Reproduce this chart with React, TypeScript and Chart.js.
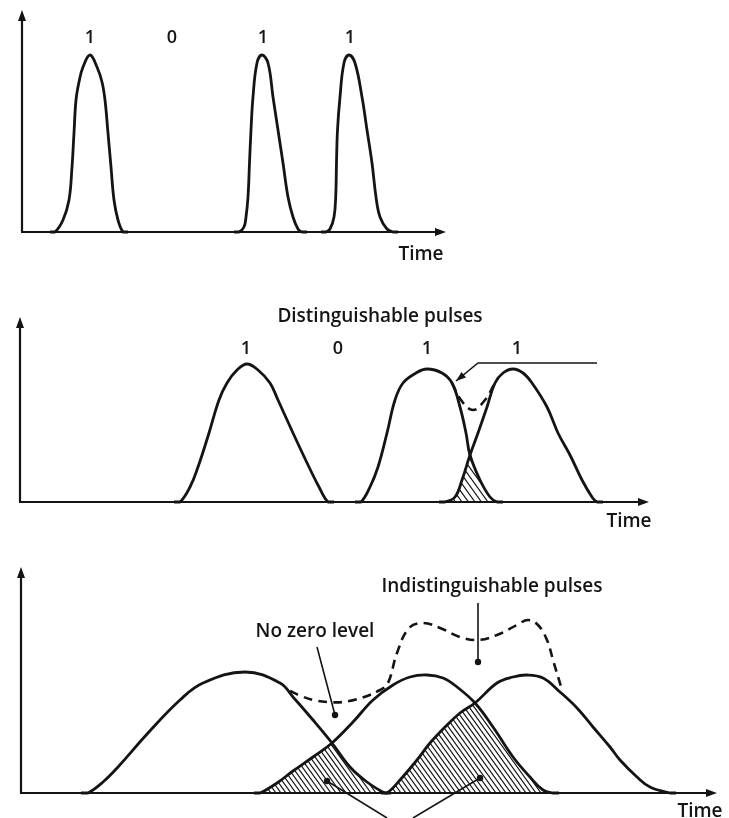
import React, { useEffect, useRef } from "react";
import { Chart, registerables } from "chart.js";

Chart.register(...registerables);

type Pair = [number, number]; // [time, amplitude]

// ---------- Panel 1: short, well separated pulses ----------
const P1_PULSE_1: Pair[] = [[28,0],[33,0],[41,12],[47,32],[50,65],[52,99],[54,132],[57,150],[61,165],[68,177],[75,165],[80,150],[83,132],[86,99],[89,65],[92,32],[96,12],[101,0],[106,0]];
const P1_PULSE_2: Pair[] = [[212,0],[217,0],[222,5],[224,15],[226,35],[227.5,69],[229,102],[231,135],[235,169],[240,177],[246,169],[251,135],[256,102],[261,69],[266,35],[271,15],[276,3],[280,0],[285,0]];
const P1_PULSE_3: Pair[] = [[299,0],[304,0],[308,3],[312,15],[313.7,35],[314.5,69],[315.5,102],[318,135],[322,169],[327,177],[333,169],[340,135],[345,102],[350,69],[354,35],[358,15],[365,3],[371,0],[376,0]];
const P1_BITS = ["1", "0", "1", "1"];
const P1_BIT_T = [68, 150, 241, 328];
const P1_BIT_A = 194;

// ---------- Panel 2: broadened but distinguishable pulses ----------
const P2_PULSE_1: Pair[] = [[154,0],[160,0],[170,15],[178,35],[189,69],[199,102],[207,119],[217,132],[227,138],[238,132],[250,119],[258,102],[273,69],[289,35],[299,15],[308,0],[314,0]];
const P2_PULSE_2: Pair[] = [[335,0],[341,0],[350,15],[358,35],[367,69],[375,102],[383,119],[396,129],[407,133],[422,129],[432,119],[440,95],[446,69],[450,47],[460,22],[470,5],[477,0],[483,0]];
const P2_PULSE_3: Pair[] = [[419,0],[425,0],[435,5],[442,22],[450,47],[458,69],[467,95],[475,119],[483,129],[493,133],[503,129],[512,119],[527,95],[538,69],[550,47],[562,22],[572,5],[577,0],[583,0]];
const P2_SUM: Pair[] = [[432,119],[441,102],[453,92],[465,102],[475,119]];
const P2_BITS = ["1", "0", "1", "1"];
const P2_BIT_T = [226, 318, 407, 497];
const P2_BIT_A = 153;
const P2_CALLOUT: Pair[] = [[577,139],[458,139],[436,121]];

// ---------- Panel 3: strongly broadened, indistinguishable pulses ----------
const P3_PULSE_1: Pair[] = [[60,0],[67,0],[82,11],[97,26],[127,60],[159,93],[182,110],[224,121],[259,110],[272,96],[292,73],[311,50],[329,26],[346,11],[364,0],[370,0]];
const P3_PULSE_2: Pair[] = [[233,0],[239,0],[256,10],[272,22],[292,36],[311,50],[332,71],[352,93],[372,108],[389,116],[406,118],[422,115],[436,106],[454,90],[472,66],[492,36],[509,16],[522,3],[532,0],[538,0]];
const P3_PULSE_3: Pair[] = [[360,0],[366,0],[379,13],[396,33],[409,50],[424,66],[439,80],[454,90],[476,110],[492,116],[506,118],[522,115],[539,101],[556,85],[572,66],[589,46],[599,33],[616,16],[629,6],[649,0],[655,0]];
const P3_SUM: Pair[] = [[269,102],[280,97],[292,93],[307,91],[322,91],[340,95],[359,103],[367,110],[376,140],[388,165],[402,170],[419,165],[439,156],[457,153],[476,158],[496,168],[507,173],[517,168],[526,153],[532,133],[541,103]];
const P3_NOZERO_PTR: Pair[] = [[296,146],[314,78]];
const P3_INDIST_PTR: Pair[] = [[457,190],[457,131]];
const P3_BOTTOM_PTR_L: Pair[] = [[366,-25],[306,12]];
const P3_BOTTOM_PTR_R: Pair[] = [[392,-25],[459,15]];

// axis extents (time max, amplitude max) per panel
const AXIS_T_MAX = [424, 629, 696];
const AXIS_A_MAX = [222, 185, 226];

const INK = "#141414";
const FONT_TEXT = '600 19px "Open Sans", "Noto Sans", sans-serif';
const FONT_BIT = '600 18px "Open Sans", "Noto Sans", sans-serif';

interface TextItem { text: string; t: number; a: number; font: string }
interface Pointer { pts: Pair[]; end: "dot" | "arrow" }
interface Panel {
  top: number;
  height: number;
  pad: { left: number; right: number; top: number; bottom: number };
  tMax: number;
  aMax: number;
  pulses: Pair[][];
  sum?: Pair[];
  overlaps: [number, number][];
  hatchGap: number;
  texts: TextItem[];
  pointers: Pointer[];
}

const bitTexts = (bits: string[], ts: number[], a: number): TextItem[] =>
  bits.map((b, i) => ({ text: b, t: ts[i], a, font: FONT_BIT }));

const PANELS: Panel[] = [
  {
    top: 0, height: 270,
    pad: { left: 22, right: 283, top: 10, bottom: 38 },
    tMax: AXIS_T_MAX[0], aMax: AXIS_A_MAX[0],
    pulses: [P1_PULSE_1, P1_PULSE_2, P1_PULSE_3],
    overlaps: [], hatchGap: 5,
    texts: [...bitTexts(P1_BITS, P1_BIT_T, P1_BIT_A), { text: "Time", t: 399, a: -23, font: FONT_TEXT }],
    pointers: [],
  },
  {
    top: 270, height: 270,
    pad: { left: 20, right: 80, top: 47, bottom: 38 },
    tMax: AXIS_T_MAX[1], aMax: AXIS_A_MAX[1],
    pulses: [P2_PULSE_1, P2_PULSE_2, P2_PULSE_3],
    sum: P2_SUM,
    overlaps: [[1, 2]], hatchGap: 6.5,
    texts: [
      ...bitTexts(P2_BITS, P2_BIT_T, P2_BIT_A),
      { text: "Distinguishable pulses", t: 360, a: 185, font: FONT_TEXT },
      { text: "Time", t: 609, a: -20, font: FONT_TEXT },
    ],
    pointers: [{ pts: P2_CALLOUT, end: "arrow" }],
  },
  {
    top: 540, height: 278,
    pad: { left: 21, right: 12, top: 27, bottom: 25 },
    tMax: AXIS_T_MAX[2], aMax: AXIS_A_MAX[2],
    pulses: [P3_PULSE_1, P3_PULSE_2, P3_PULSE_3],
    sum: P3_SUM,
    overlaps: [[0, 1], [1, 2]], hatchGap: 5,
    texts: [
      { text: "Indistinguishable pulses", t: 471, a: 206, font: FONT_TEXT },
      { text: "No zero level", t: 294, a: 161, font: FONT_TEXT },
      { text: "Time", t: 679, a: -19, font: FONT_TEXT },
    ],
    pointers: [
      { pts: P3_NOZERO_PTR, end: "dot" },
      { pts: P3_INDIST_PTR, end: "dot" },
      { pts: P3_BOTTOM_PTR_L, end: "dot" },
      { pts: P3_BOTTOM_PTR_R, end: "dot" },
    ],
  },
];

function arrowHead(ctx: CanvasRenderingContext2D, fx: number, fy: number, tx: number, ty: number, len: number, hw: number) {
  const ang = Math.atan2(ty - fy, tx - fx);
  const bx = tx - len * Math.cos(ang);
  const by = ty - len * Math.sin(ang);
  const px = -Math.sin(ang) * hw;
  const py = Math.cos(ang) * hw;
  ctx.beginPath();
  ctx.moveTo(tx, ty);
  ctx.lineTo(bx + px, by + py);
  ctx.lineTo(bx - px, by - py);
  ctx.closePath();
  ctx.fill();
}

function areaPath(ctx: CanvasRenderingContext2D, chart: any, idx: number) {
  const line: any = chart.getDatasetMeta(idx).dataset;
  line.updateControlPoints(chart.chartArea, "x");
  const pts = line.points;
  const y0 = chart.scales.y.getPixelForValue(0);
  ctx.beginPath();
  line.path(ctx);
  ctx.lineTo(pts[pts.length - 1].x, y0);
  ctx.lineTo(pts[0].x, y0);
  ctx.closePath();
}

function makePlugin(p: Panel) {
  return {
    id: "diagram",
    beforeDatasetsDraw(chart: any) {
      const ctx: CanvasRenderingContext2D = chart.ctx;
      const xs = chart.scales.x;
      const ys = chart.scales.y;
      for (const [i, j] of p.overlaps) {
        ctx.save();
        areaPath(ctx, chart, i);
        ctx.clip();
        areaPath(ctx, chart, j);
        ctx.clip();
        const { left, right, top, bottom } = chart.chartArea;
        const H = bottom - top;
        const dx = H * 0.72;
        ctx.beginPath();
        for (let x = left - dx; x < right; x += p.hatchGap) {
          ctx.moveTo(x, top);
          ctx.lineTo(x + dx, bottom);
        }
        ctx.lineWidth = 1.2;
        ctx.strokeStyle = INK;
        ctx.stroke();
        ctx.restore();
      }
      const x0 = xs.getPixelForValue(0);
      const y0 = ys.getPixelForValue(0);
      const xT = xs.getPixelForValue(p.tMax);
      const yT = ys.getPixelForValue(p.aMax);
      ctx.save();
      ctx.strokeStyle = INK;
      ctx.fillStyle = INK;
      ctx.lineWidth = 2.2;
      ctx.beginPath();
      ctx.moveTo(x0, y0);
      ctx.lineTo(x0, yT + 8);
      ctx.moveTo(x0 - 1, y0);
      ctx.lineTo(xT - 8, y0);
      ctx.stroke();
      arrowHead(ctx, x0, y0, x0, yT, 11, 4);
      arrowHead(ctx, x0, y0, xT, y0, 11, 4);
      ctx.restore();
    },
    afterDatasetsDraw(chart: any) {
      const ctx: CanvasRenderingContext2D = chart.ctx;
      const xs = chart.scales.x;
      const ys = chart.scales.y;
      const X = (t: number) => xs.getPixelForValue(t);
      const Y = (a: number) => ys.getPixelForValue(a);
      ctx.save();
      ctx.fillStyle = INK;
      ctx.strokeStyle = INK;
      ctx.textAlign = "center";
      ctx.textBaseline = "middle";
      for (const tx of p.texts) {
        ctx.font = tx.font;
        ctx.fillText(tx.text, X(tx.t), Y(tx.a));
      }
      for (const ptr of p.pointers) {
        ctx.lineWidth = 1.6;
        ctx.beginPath();
        ptr.pts.forEach(([t, a], k) => (k === 0 ? ctx.moveTo(X(t), Y(a)) : ctx.lineTo(X(t), Y(a))));
        ctx.stroke();
        const n = ptr.pts.length;
        const [et, ea] = ptr.pts[n - 1];
        if (ptr.end === "dot") {
          ctx.beginPath();
          ctx.arc(X(et), Y(ea), 3.2, 0, Math.PI * 2);
          ctx.fill();
        } else {
          const [pt, pa] = ptr.pts[n - 2];
          arrowHead(ctx, X(pt), Y(pa), X(et), Y(ea), 10, 3.5);
        }
      }
      ctx.restore();
    },
  };
}

function PanelChart({ panel }: { panel: Panel }) {
  const ref = useRef<HTMLCanvasElement | null>(null);
  useEffect(() => {
    if (!ref.current) return;
    const toXY = (d: Pair[]) => d.map(([x, y]) => ({ x, y }));
    const datasets: any[] = panel.pulses.map((d) => ({
      data: toXY(d),
      borderColor: INK,
      borderWidth: 2.8,
      tension: 0.4,
      pointRadius: 0,
      fill: false,
      clip: false,
      borderJoinStyle: "round",
      borderCapStyle: "butt",
    }));
    if (panel.sum) {
      datasets.push({
        data: toXY(panel.sum),
        borderColor: INK,
        borderWidth: 2.6,
        borderDash: [9, 6],
        tension: 0.4,
        pointRadius: 0,
        fill: false,
        clip: false,
      });
    }
    const chart = new Chart(ref.current, {
      type: "line",
      data: { datasets },
      options: {
        animation: false,
        responsive: false,
        devicePixelRatio: 1,
        events: [],
        layout: { padding: panel.pad },
        scales: {
          x: { type: "linear", min: 0, max: panel.tMax, display: false },
          y: { type: "linear", min: 0, max: panel.aMax, display: false },
        },
        plugins: { legend: { display: false }, tooltip: { enabled: false } },
      },
      plugins: [makePlugin(panel)],
    } as any);
    return () => chart.destroy();
  }, [panel]);
  return (
    <canvas
      ref={ref}
      width={729}
      height={panel.height}
      style={{ position: "absolute", left: 0, top: panel.top, width: 729, height: panel.height }}
    />
  );
}

export default function App() {
  return (
    <div style={{ position: "absolute", left: 0, top: 0, width: 729, height: 818, background: "#fff", overflow: "hidden" }}>
      {PANELS.map((p, i) => (
        <PanelChart key={i} panel={p} />
      ))}
    </div>
  );
}
